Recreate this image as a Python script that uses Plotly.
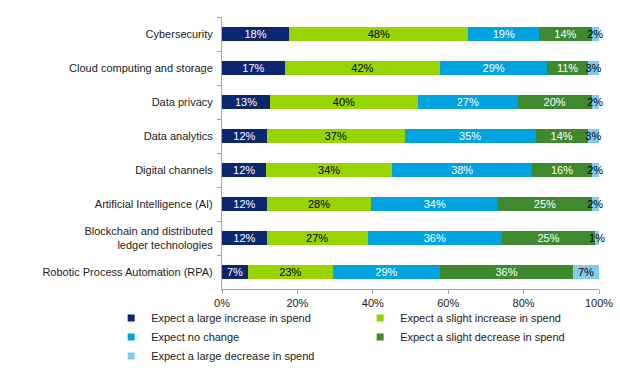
import plotly.graph_objects as go

categories = [
    "Cybersecurity",
    "Cloud computing and storage",
    "Data privacy",
    "Data analytics",
    "Digital channels",
    "Artificial Intelligence (AI)",
    "Blockchain and distributed<br>ledger technologies",
    "Robotic Process Automation (RPA)",
]

large_increase = [18, 17, 13, 12, 12, 12, 12, 7]
slight_increase = [48, 42, 40, 37, 34, 28, 27, 23]
no_change = [19, 29, 27, 35, 38, 34, 36, 29]
slight_decrease = [14, 11, 20, 14, 16, 25, 25, 36]
large_decrease = [2, 3, 2, 3, 2, 2, 1, 7]

series = [
    ("Expect a large increase in spend", large_increase, "#0c2670", "white"),
    ("Expect a slight increase in spend", slight_increase, "#97d400", "black"),
    ("Expect no change", no_change, "#00a3e0", "white"),
    ("Expect a slight decrease in spend", slight_decrease, "#3f8a2e", "white"),
    ("Expect a large decrease in spend", large_decrease, "#80cbee", "black"),
]

fig = go.Figure()
for name, vals, color, tcolor in series:
    fig.add_trace(go.Bar(
        y=categories, x=vals, name=name, orientation="h",
        marker=dict(color=color, line=dict(width=0)),
        text=[f"{v}%" for v in vals],
        textposition="inside", insidetextanchor="middle", textangle=0,
        textfont=dict(color=tcolor, size=11, family="Liberation Sans, Arial"),
        constraintext="none", cliponaxis=False,
        hoverinfo="skip", showlegend=False,
    ))

# legend-only proxies with small square swatches
for name, vals, color, tcolor in series:
    fig.add_trace(go.Scatter(
        x=[None], y=[None], mode="markers", name=name,
        marker=dict(symbol="square", size=7, color=color),
        hoverinfo="skip", showlegend=True,
    ))

fig.update_layout(
    barmode="stack", barnorm="fraction", bargap=0.61,
    width=620, height=372,
    margin=dict(l=222, r=21, t=17, b=83, autoexpand=False),
    paper_bgcolor="white", plot_bgcolor="white",
    font=dict(family="Liberation Sans, Arial", size=11, color="#222222"),
    uniformtext=dict(minsize=11, mode="show"),
    showlegend=True,
    legend=dict(
        orientation="h", x=-0.294, xanchor="left", y=-0.053, yanchor="top",
        entrywidth=204, entrywidthmode="pixels",
        bgcolor="rgba(0,0,0,0)",
        font=dict(size=11, color="#222222"),
        itemwidth=30, tracegroupgap=0, traceorder="normal",
    ),
)
fig.update_xaxes(
    range=[0, 1], tickvals=[0, 0.2, 0.4, 0.6, 0.8, 1.0],
    ticktext=["0%", "20%", "40%", "60%", "80%", "100%"],
    showgrid=False, zeroline=False, automargin=False,
    showline=True, linecolor="#a6a6a6", linewidth=1,
    ticks="outside", ticklen=4, tickcolor="#a6a6a6",
    tickfont=dict(size=11, color="#222222"),
)
fig.update_yaxes(
    autorange="reversed", showgrid=False, zeroline=False, automargin=False,
    showline=True, linecolor="#a6a6a6", linewidth=1,
    ticks="outside", ticklen=4, tickcolor="#a6a6a6", tickson="boundaries",
    ticklabelstandoff=6,
    tickfont=dict(size=11, color="#222222"),
)

fig.write_html("out.html", config={"displayModeBar": False},
               post_script="document.body.style.margin='0';")
